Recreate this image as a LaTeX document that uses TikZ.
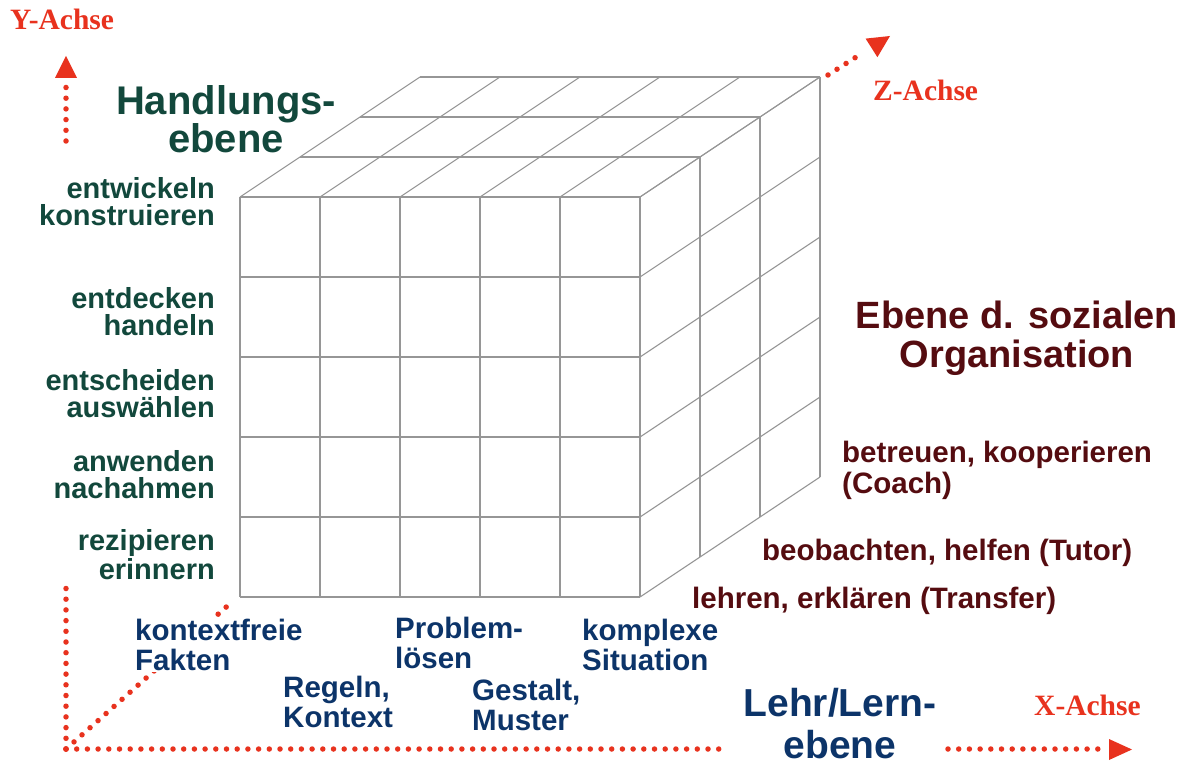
\documentclass[tikz,border=0pt]{standalone}
\usepackage{fontspec}
\setmainfont{Liberation Sans}
\newfontfamily\axisfont{Liberation Serif}
\usetikzlibrary{calc}
\definecolor{grn}{RGB}{18,72,60}
\definecolor{drd}{RGB}{85,12,16}
\definecolor{nvy}{RGB}{12,52,105}
\definecolor{axred}{RGB}{232,50,30}
\definecolor{gridc}{RGB}{150,150,150}
\begin{document}
\begin{tikzpicture}[x=1pt,y=-1pt,
  gridline/.style={draw=gridc, line width=1.1pt},
  dotline/.style={draw=axred, line width=5.5pt, line cap=round, dash pattern=on 0pt off 10.7pt},
  tiphead/.style={fill=axred},
  lbl/.style={inner sep=0pt},
  grnlbl/.style={lbl, text=grn, font=\bfseries\fontsize{29}{27}\selectfont, align=right, anchor=base east},
  navlbl/.style={lbl, text=nvy, font=\bfseries\fontsize{29.5}{30}\selectfont, align=left, anchor=base west},
  redlbl/.style={lbl, text=drd, font=\bfseries\fontsize{29.5}{31}\selectfont, align=left, anchor=base west},
  axlbl/.style={lbl, text=axred, font=\axisfont\bfseries\fontsize{29.5}{31}\selectfont, anchor=base west}]
\useasboundingbox (0,0) rectangle (1200,765);
% cube
\foreach \i in {0,...,5} {
  \draw[gridline] (240+80*\i,197) -- (240+80*\i,597);
  \draw[gridline] (240,197+80*\i) -- (640,197+80*\i);
  \draw[gridline] (240+80*\i,197) -- (420+80*\i,77);
  \draw[gridline] (640,197+80*\i) -- (820,77+80*\i);
}
\foreach \k in {1,2,3} {
  \draw[gridline] (240+60*\k,197-40*\k) -- (640+60*\k,197-40*\k);
  \draw[gridline] (640+60*\k,197-40*\k) -- (640+60*\k,597-40*\k);
}
% axes
\coordinate (O) at (66,749);
\coordinate (Ytop) at (66,587);
\coordinate (Xend) at (728,749);
\coordinate (D) at (233,601);
\draw[dotline] (O) -- (Ytop);
\draw[dotline] (O) -- (Xend);
\draw[dotline] (O) -- (D);
\coordinate (ya) at (66,141);
\coordinate (yb) at (66,86);
\draw[dotline] (ya) -- (yb);
\fill[tiphead] (66,56) -- (55,78) -- (77,78) -- cycle;
\coordinate (za) at (828,75);
\coordinate (zb) at (864,52);
\draw[dotline] (za) -- (zb);
\fill[tiphead] (890,36) -- (865.6,38.6) -- (877.4,57.2) -- cycle;
\coordinate (xa) at (948,749);
\coordinate (xb) at (1102,749);
\draw[dotline] (xa) -- (xb);
\fill[tiphead] (1132,749.5) -- (1109,739) -- (1109,760) -- cycle;
% axis labels
\node[axlbl] (yl) at (10,30) {Y-Achse};
\node[axlbl] (zl) at (873,101) {Z-Achse};
\node[axlbl] (xl) at (1034,715) {X-Achse};
% Handlungsebene (anchor = baseline of last line)
\node[lbl, text=grn, font=\bfseries\fontsize{40}{37}\selectfont, align=center, anchor=base] (hand) at (226,153) {Handlungs-\\ebene};
\node[grnlbl] (l1) at (215,225) {entwickeln\\konstruieren};
\node[grnlbl] (l2) at (215,335) {entdecken\\handeln};
\node[grnlbl] (l3) at (215,417) {entscheiden\\ausw\"ahlen};
\node[grnlbl] (l4) at (215,498) {anwenden\\nachahmen};
\node[grnlbl] (l5) at (215,579) {rezipieren\\erinnern};
% social organisation
\node[lbl, text=drd, font=\bfseries\fontsize{38}{39}\selectfont, align=center, anchor=base] (soz) at (1017,367) {Ebene d. sozialen\\Organisation};
\node[redlbl] (coach) at (842,493) {betreuen, kooperieren\\(Coach)};
\node[redlbl] (tutor) at (762,560) {beobachten, helfen (Tutor)};
\node[redlbl] (transfer) at (692,608) {lehren, erkl\"aren (Transfer)};
% teaching/learning
\node[navlbl, fill=white, inner sep=2pt] (kf) at (133,670) {kontextfreie\\Fakten};
\node[navlbl] (rk) at (283,727) {Regeln,\\Kontext};
\node[navlbl] (pl) at (395,668) {Problem-\\l\"osen};
\node[navlbl] (gm) at (472,730) {Gestalt,\\Muster};
\node[navlbl] (ks) at (582,670) {komplexe\\Situation};
\node[lbl, text=nvy, font=\bfseries\fontsize{39}{42}\selectfont, align=center, anchor=base] (ll) at (840,758) {Lehr/Lern-\\ebene};
\end{tikzpicture}
\end{document}
